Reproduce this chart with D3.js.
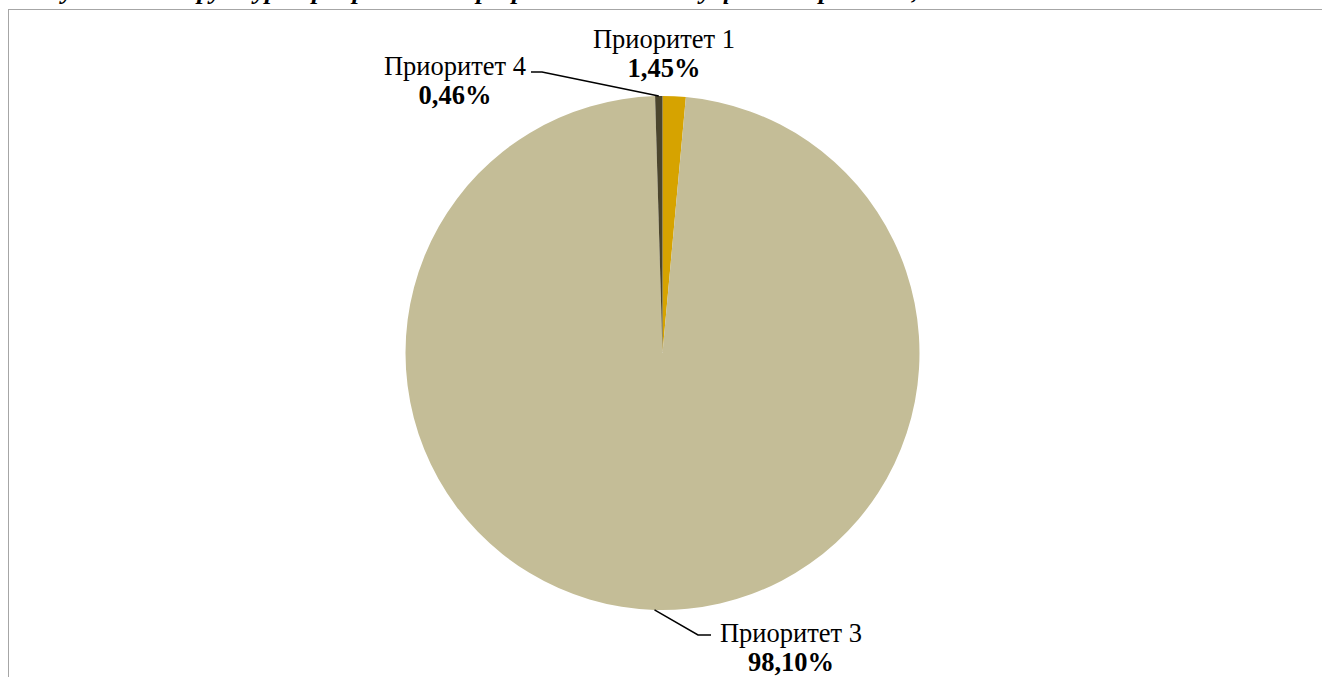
<!DOCTYPE html>
<html>
<head>
<meta charset="utf-8">
<script src="https://cdn.jsdelivr.net/npm/d3@7"></script>
<style>
  body { margin: 0; background: #fff; }
  svg { display: block; }
</style>
</head>
<body>
<script>
// Chart data
const categories = ["Приоритет 1", "Приоритет 3", "Приоритет 4"];
const values = [1.45, 98.10, 0.46];
const valueLabels = ["1,45%", "98,10%", "0,46%"];
const colors = ["#D6A300", "#C4BD97", "#4B452C"];

let width = 1322, height = 677;
const cx = 662.5, cy = 353, radius = 257;

let svg = d3.select("body")
            .append("svg")
            .attr("width", width)
            .attr("height", height);

// Title, mostly cut off by the top edge of the picture
svg.append("text")
   .attr("x", 20)
   .attr("y", -1)
   .style("font-family", "'Liberation Serif', 'Times New Roman', serif")
   .style("font-size", "26px")
   .style("font-weight", "bold")
   .style("font-style", "italic")
   .text("Рисунок 3 – Структура приоритетов программы по объему финансирования, %");

// Chart area frame
svg.append("rect")
   .attr("x", 8.5)
   .attr("y", 9.5)
   .attr("width", 1330)
   .attr("height", 700)
   .attr("fill", "none")
   .attr("stroke", "#A6A6A6")
   .attr("stroke-width", 1);

const data = categories.map((c, i) => ({ name: c, value: values[i], label: valueLabels[i], color: colors[i] }));

const pie = d3.pie()
    .value(d => d.value)
    .sort(null);

const arc = d3.arc()
    .innerRadius(0)
    .outerRadius(radius);

const g = svg.append("g")
   .attr("transform", `translate(${cx},${cy})`);

g.selectAll("path")
 .data(pie(data))
 .enter()
 .append("path")
 .attr("d", arc)
 .attr("fill", d => d.data.color);

// Label placement (text centre x, first baseline y) and leader lines
const labelPos = {
    "Приоритет 1": { x: 664, y: 48, line: null },
    "Приоритет 3": { x: 791, y: 642, line: [[711, 635], [698, 635]] },
    "Приоритет 4": { x: 455, y: 75, line: [[531, 72], [542, 72]] }
};

const arcs = pie(data);
arcs.forEach(a => {
    const p = labelPos[a.data.name];
    const mid = (a.startAngle + a.endAngle) / 2;
    const edge = [cx + Math.sin(mid) * radius, cy - Math.cos(mid) * radius];

    if (p.line) {
        svg.append("path")
           .attr("d", d3.line()([p.line[0], p.line[1], edge]))
           .attr("fill", "none")
           .attr("stroke", "#000")
           .attr("stroke-width", 1.5);
    }

    const t = svg.append("text")
       .attr("text-anchor", "middle")
       .style("font-family", "'Liberation Serif', 'Times New Roman', serif")
       .style("font-size", "26.5px");

    t.append("tspan")
     .attr("x", p.x)
     .attr("y", p.y)
     .text(a.data.name);

    t.append("tspan")
     .attr("x", p.x)
     .attr("y", p.y + 29)
     .style("font-weight", "bold")
     .text(a.data.label);
});
</script>
</body>
</html>
